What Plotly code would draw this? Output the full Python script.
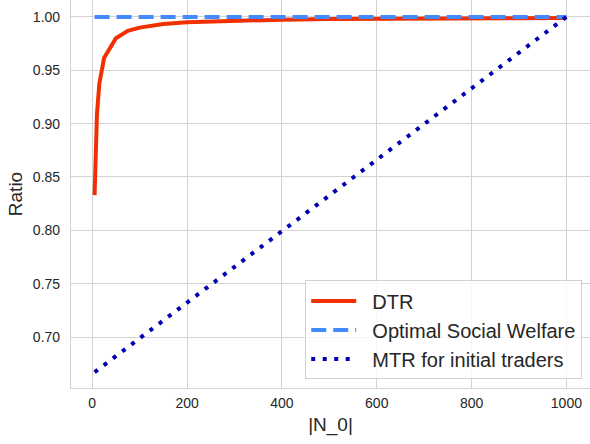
import plotly.graph_objects as go

# Data
n_dtr = [5, 10, 15, 20, 25, 50, 75, 100, 150, 200, 300, 400, 500, 600, 700, 800, 900, 1000]
dtr = [0.833, 0.909, 0.9375, 0.952, 0.9615, 0.980, 0.987, 0.990, 0.9934, 0.995,
       0.9967, 0.9975, 0.998, 0.9983, 0.9986, 0.9988, 0.9989, 0.999]
n_osw = [5, 1000]
osw = [1.0, 1.0]
n_mtr = [5, 1000]
mtr = [0.667, 1.0]

x_ticks = [0, 200, 400, 600, 800, 1000]
y_ticks = [0.70, 0.75, 0.80, 0.85, 0.90, 0.95, 1.00]

FONT = "Liberation Sans, Arial, sans-serif"
GRID = "#d3d3d3"
PAD = "\u00a0\u00a0"

fig = go.Figure()
fig.add_trace(go.Scatter(x=n_dtr, y=dtr, mode="lines", name=PAD + "DTR",
                         legendgroup="a",
                         line=dict(color="#f03000", width=4)))
fig.add_trace(go.Scatter(x=n_osw, y=osw, mode="lines", name=PAD + "Optimal Social Welfare",
                         legendgroup="b",
                         line=dict(color="#448aff", width=4, dash="15px,7px")))
fig.add_trace(go.Scatter(x=n_mtr, y=mtr, mode="lines", name=PAD + "MTR for initial traders",
                         legendgroup="c",
                         line=dict(color="#0000b0", width=4, dash="4px,7.5px")))

fig.update_layout(
    width=590, height=444,
    margin=dict(l=71, r=0, t=0, b=56, autoexpand=False),
    paper_bgcolor="white", plot_bgcolor="white",
    font=dict(family=FONT, color="#262626"),
    legend=dict(x=0.985, y=0.022, xanchor="right", yanchor="bottom",
                bgcolor="rgba(255,255,255,0.8)", bordercolor="#d0d0d0", borderwidth=1,
                font=dict(size=20, family=FONT, color="#262626"),
                itemwidth=45, tracegroupgap=0),
    showlegend=True,
)
fig.update_xaxes(range=[-44.75, 1049.75], tickvals=x_ticks,
                 ticktext=[str(v) for v in x_ticks], automargin=False,
                 showgrid=True, gridcolor=GRID, gridwidth=1.2,
                 showline=True, linecolor=GRID, linewidth=1.2,
                 zeroline=False, ticks="outside", ticklen=2, tickcolor="rgba(0,0,0,0)",
                 tickfont=dict(size=14, family=FONT, color="#262626"),
                 title=dict(text="|N_0|", font=dict(size=19, family=FONT, color="#262626"), standoff=7))
fig.update_yaxes(range=[0.6522, 1.0159], tickvals=y_ticks,
                 ticktext=["%.2f" % v for v in y_ticks], automargin=False,
                 showgrid=True, gridcolor=GRID, gridwidth=1.2,
                 showline=True, linecolor=GRID, linewidth=1.2,
                 zeroline=False, ticks="outside", ticklen=7, tickcolor="rgba(0,0,0,0)",
                 tickfont=dict(size=14, family=FONT, color="#262626"),
                 title=dict(text="Ratio", font=dict(size=19, family=FONT, color="#262626"), standoff=5))

fig.write_html("out.html", config={"displayModeBar": False},
               post_script="document.body.style.margin='0';document.body.style.overflow='hidden';")
